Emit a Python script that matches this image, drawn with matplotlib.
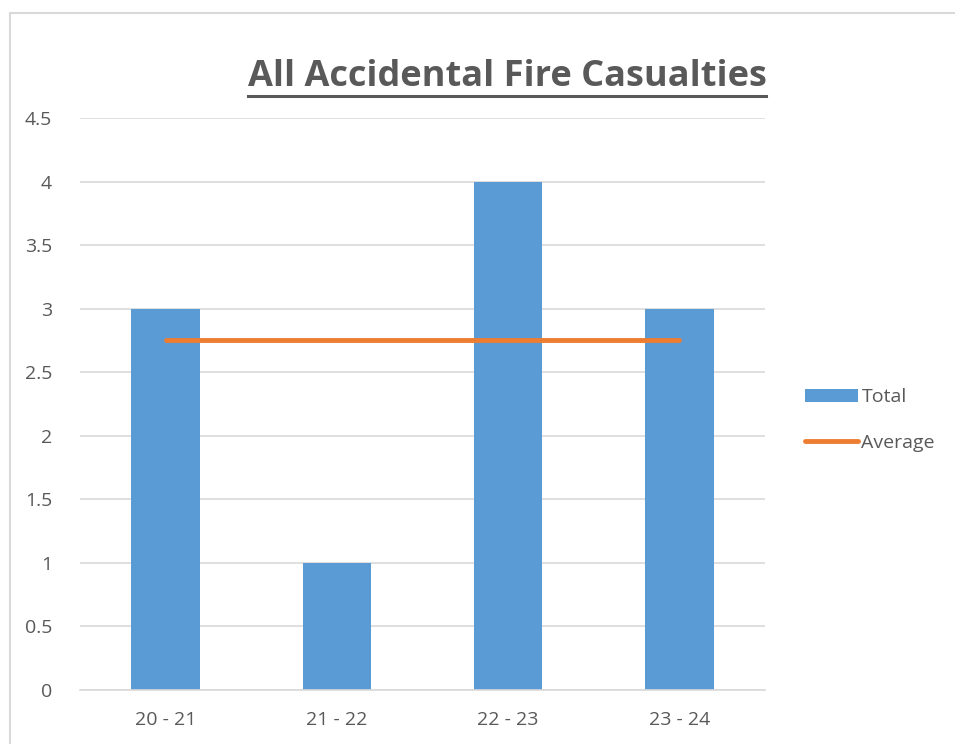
import matplotlib.pyplot as plt
from matplotlib.lines import Line2D

categories = ["20 - 21", "21 - 22", "22 - 23", "23 - 24"]
totals = [3, 1, 4, 3]
average = [2.75, 2.75, 2.75, 2.75]
yticks = [0, 0.5, 1, 1.5, 2, 2.5, 3, 3.5, 4, 4.5]

text_col = "#595959"
plt.rcParams['font.family'] = ['Open Sans', 'DejaVu Sans']

fig = plt.figure(figsize=(9.55, 7.44), dpi=100)

# outer chart frame (cropped on right and bottom)
fig.add_artist(Line2D([10/955, 10/955], [0, 1 - 13/744], color="#d9d9d9", lw=1.5))
fig.add_artist(Line2D([10/955, 1], [1 - 13/744, 1 - 13/744], color="#d9d9d9", lw=1.5))

ax = fig.add_axes([80/955, 1 - 690/744, 685/955, 572/744])
x = list(range(len(categories)))
bars = ax.bar(x, totals, width=0.4, color="#5B9BD5", label="Total", zorder=2)
line, = ax.plot(x, average, color="#ED7D31", lw=3.5, label="Average", zorder=3, solid_capstyle="round")

ax.set_xlim(-0.5, len(categories) - 0.5)
ax.set_ylim(0, 4.5)
ax.set_yticks(yticks)
ax.set_yticklabels([f"{v:g}" for v in yticks])
ax.set_xticks(x)
ax.set_xticklabels(categories)
ax.yaxis.grid(True, color="#d9d9d9", lw=1.2, zorder=0)
ax.tick_params(axis="both", length=0, labelsize=14, colors=text_col)
ax.tick_params(axis="y", pad=20)
ax.tick_params(axis="x", pad=15)
for s in ["top", "right", "left"]:
    ax.spines[s].set_visible(False)
ax.spines["bottom"].set_color("#d9d9d9")
ax.spines["bottom"].set_linewidth(1.2)

title = fig.text(507/955, 1 - 77/744, "All Accidental Fire Casualties", ha="center", va="center",
                 fontsize=26, fontweight="bold", color=text_col)
fig.canvas.draw()
bb = title.get_window_extent().transformed(fig.transFigure.inverted())
fig.add_artist(Line2D([bb.x0, bb.x1], [1 - 96/744, 1 - 96/744], color=text_col, lw=2.2))

leg = fig.legend([bars, line], ["Total", "Average"], loc="center left",
                 bbox_to_anchor=(805/955, 1 - 420/744), frameon=False,
                 fontsize=14, handlelength=2.7, handletextpad=0.2, labelspacing=1.4,
                 borderpad=0, borderaxespad=0)
for t in leg.get_texts():
    t.set_color(text_col)

fig.savefig("out.png", dpi=100)
